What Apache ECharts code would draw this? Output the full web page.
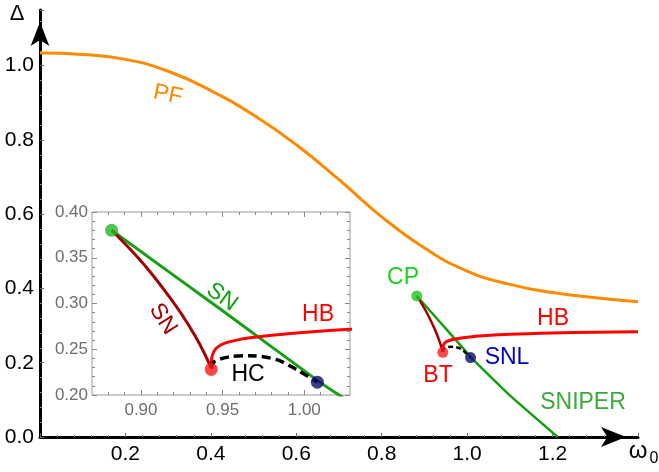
<!DOCTYPE html>
<html>
<head>
<meta charset="utf-8">
<title>Bifurcation diagram</title>
<script src="https://cdn.jsdelivr.net/npm/echarts@6/dist/echarts.min.js"></script>
<style>
    html, body { margin: 0; padding: 0; background: #fff; }
    #main { width: 659px; height: 472px; }
</style>
</head>
<body>
<div id="main"></div>
<script>
    // --- data (omega_0, Delta) ---
    var pfOmega = [0, 0.1, 0.2, 0.3, 0.4, 0.5, 0.6, 0.7, 0.8, 0.9, 1.0, 1.1, 1.2, 1.3, 1.4];
    var pfDelta = [1.034, 1.030, 1.017, 0.985, 0.933, 0.867, 0.787, 0.693, 0.593, 0.509, 0.447, 0.411, 0.389, 0.375, 0.364];

    var snOmega = [0.882, 0.95, 1.008, 1.023, 1.1, 1.212];
    var snDelta = [0.380, 0.292, 0.216, 0.198, 0.112, 0];

    var snRedOmega = [0.882, 0.893, 0.904, 0.915, 0.925, 0.933, 0.939, 0.943];
    var snRedDelta = [0.380, 0.360, 0.338, 0.313, 0.288, 0.265, 0.245, 0.229];

    var hbOmega = [0.943, 0.9435, 0.946, 0.951, 0.96, 0.9667, 0.99, 1.028, 1.1, 1.2, 1.3, 1.4];
    var hbDelta = [0.229, 0.242, 0.251, 0.2565, 0.2605, 0.2625, 0.267, 0.2718, 0.2765, 0.280, 0.282, 0.2832];

    var hcOmega = [0.943, 0.945, 0.9543, 0.9667, 0.9832, 0.9956, 1.008];
    var hcDelta = [0.229, 0.2366, 0.2418, 0.2430, 0.2386, 0.2275, 0.214];

    var cpPoint = [0.882, 0.380];
    var btPoint = [0.943, 0.228];
    var snlPoint = [1.008, 0.214];

    // tick labels
    var mainXLabels = ['0.2', '0.4', '0.6', '0.8', '1.0', '1.2'];
    var mainYLabels = ['0.0', '0.2', '0.4', '0.6', '0.8', '1.0'];
    var insetXTicks = [0.90, 0.95, 1.00];
    var insetYTicks = [0.20, 0.25, 0.30, 0.35, 0.40];

    function pairs(xs, ys) {
        return xs.map(function (x, i) { return [x, ys[i]]; });
    }

    // minor ticks of the inset frame (every 0.01, skipping majors)
    function minorTicks(from, to, majors) {
        var out = [];
        for (var v = Math.round(from * 100); v <= Math.round(to * 100); v++) {
            var val = v / 100;
            var isMajor = majors.some(function (m) { return Math.abs(m - val) < 1e-6; });
            if (!isMajor) out.push(val);
        }
        return out;
    }

    var insetXMin = 0.87, insetXMax = 1.028, insetYMin = 0.20, insetYMax = 0.40;
    var font = 'Liberation Sans, Arial, sans-serif';
    var tickGray = '#8a8a8a';

    function insetAxis(kind, position, major, showLabel) {
        var ticks = major ? (kind === 'x' ? insetXTicks : insetYTicks)
            : (kind === 'x' ? minorTicks(0.88, 1.02, insetXTicks) : minorTicks(0.21, 0.39, insetYTicks));
        return {
            type: 'value',
            gridIndex: 1,
            position: position,
            min: kind === 'x' ? insetXMin : insetYMin,
            max: kind === 'x' ? insetXMax : insetYMax,
            axisLine: {show: false},
            splitLine: {show: false},
            axisTick: {show: true, inside: true, length: major ? 5 : 3, customValues: ticks,
                lineStyle: {color: tickGray, width: 1}},
            axisLabel: {show: showLabel, customValues: ticks, color: '#6e6e6e', fontSize: 17,
                fontFamily: font, margin: kind === 'x' ? 7 : 4,
                formatter: function (v) { return v.toFixed(2); }}
        };
    }

    var myChart = echarts.init(document.getElementById('main'), null, {renderer: 'canvas'});

    var option = {
        backgroundColor: '#fff',
        animation: false,
        grid: [
            {left: 40, right: 21, top: 10, bottom: 35},
            {left: 92, right: 309, top: 212, bottom: 77, show: true,
                backgroundColor: '#fff', borderColor: '#999', borderWidth: 1}
        ],
        xAxis: [
            {
                type: 'value', gridIndex: 0, min: 0, max: 1.4, interval: 0.2,
                axisLine: {show: true, onZero: false, lineStyle: {color: '#000', width: 3},
                    symbol: ['none', 'arrow'], symbolSize: [15, 25], symbolOffset: [0, -12]},
                axisTick: {show: true, inside: true, length: 4, lineStyle: {color: '#666'}},
                minorTick: {show: true, splitNumber: 5, length: 2, lineStyle: {color: '#888'}},
                splitLine: {show: false},
                axisLabel: {color: '#000', fontSize: 21, fontFamily: font, margin: 7,
                    formatter: function (v) {
                        var s = v.toFixed(1);
                        return mainXLabels.indexOf(s) >= 0 ? s : '';
                    }}
            },
            insetAxis('x', 'bottom', true, true),
            insetAxis('x', 'bottom', false, false),
            insetAxis('x', 'top', true, false),
            insetAxis('x', 'top', false, false)
        ],
        yAxis: [
            {
                type: 'value', gridIndex: 0, min: 0, max: 1.15, interval: 0.2,
                axisLine: {show: true, onZero: false, lineStyle: {color: '#000', width: 3},
                    symbol: ['none', 'arrow'], symbolSize: [14, 24], symbolOffset: [0, -12]},
                axisTick: {show: true, inside: true, length: 4, lineStyle: {color: '#666'}},
                minorTick: {show: true, splitNumber: 5, length: 2, lineStyle: {color: '#888'}},
                splitLine: {show: false},
                axisLabel: {color: '#000', fontSize: 21, fontFamily: font, margin: 6,
                    formatter: function (v) {
                        var s = v.toFixed(1);
                        return mainYLabels.indexOf(s) >= 0 && Math.abs(v - parseFloat(s)) < 1e-6 ? s : '';
                    }}
            },
            insetAxis('y', 'left', true, true),
            insetAxis('y', 'left', false, false),
            insetAxis('y', 'right', true, false),
            insetAxis('y', 'right', false, false)
        ],
        series: [
            // main plot
            {type: 'line', xAxisIndex: 0, yAxisIndex: 0, data: pairs(pfOmega, pfDelta), smooth: 0.5,
                showSymbol: false, lineStyle: {color: '#ff8a00', width: 3}},
            {type: 'line', xAxisIndex: 0, yAxisIndex: 0, data: pairs(snOmega, snDelta), smooth: 0.2,
                showSymbol: false, lineStyle: {color: '#13a013', width: 2.5}},
            {type: 'line', xAxisIndex: 0, yAxisIndex: 0, data: pairs(snRedOmega, snRedDelta), smooth: 0.3,
                showSymbol: false, lineStyle: {color: '#a00000', width: 2.5}},
            {type: 'line', xAxisIndex: 0, yAxisIndex: 0, data: pairs(hbOmega, hbDelta), smooth: 0.3,
                showSymbol: false, lineStyle: {color: '#ff0000', width: 3}},
            {type: 'line', xAxisIndex: 0, yAxisIndex: 0, data: pairs(hcOmega, hcDelta), smooth: 0.3,
                showSymbol: false, lineStyle: {color: '#000', width: 2.5, type: [5, 3]}},
            {type: 'scatter', xAxisIndex: 0, yAxisIndex: 0, symbolSize: 11, z: 5,
                data: [
                    {value: cpPoint, itemStyle: {color: '#22c422'}},
                    {value: btPoint, itemStyle: {color: '#ff1a1a'}},
                    {value: snlPoint, itemStyle: {color: '#0c0c6e'}}
                ]},
            // inset
            {type: 'line', xAxisIndex: 1, yAxisIndex: 1, data: pairs(snOmega, snDelta), smooth: 0.2, clip: true,
                showSymbol: false, lineStyle: {color: '#13a013', width: 3}},
            {type: 'line', xAxisIndex: 1, yAxisIndex: 1, data: pairs(snRedOmega, snRedDelta), smooth: 0.3, clip: true,
                showSymbol: false, lineStyle: {color: '#a00000', width: 3}},
            {type: 'line', xAxisIndex: 1, yAxisIndex: 1, data: pairs(hbOmega, hbDelta), smooth: 0.3, clip: true,
                showSymbol: false, lineStyle: {color: '#ff0000', width: 3}},
            {type: 'line', xAxisIndex: 1, yAxisIndex: 1, data: pairs(hcOmega, hcDelta), smooth: 0.3, clip: true,
                showSymbol: false, lineStyle: {color: '#000', width: 3.5, type: [9, 5]}},
            {type: 'scatter', xAxisIndex: 1, yAxisIndex: 1, symbolSize: 13, z: 5, clip: false,
                data: [
                    {value: cpPoint, itemStyle: {color: '#22b822'}},
                    {value: btPoint, itemStyle: {color: '#ff1a1a'}},
                    {value: snlPoint, itemStyle: {color: '#0c0c6e'}}
                ]}
        ],
        graphic: [
            // axis titles
            {type: 'text', x: 17, y: 14, style: {text: 'Δ', fontSize: 22, fontFamily: font, fill: '#000', align: 'center', verticalAlign: 'middle'}},
            {type: 'text', x: 638, y: 451, style: {text: 'ω', fontSize: 24, fontFamily: font, fill: '#000', align: 'center', verticalAlign: 'middle'}},
            {type: 'text', x: 654, y: 459, style: {text: '0', fontSize: 16, fontFamily: font, fill: '#000', align: 'center', verticalAlign: 'middle'}},
            // main annotations
            {type: 'text', x: 168, y: 95, rotation: -0.2, style: {text: 'PF', fontSize: 23, fontFamily: font, fill: '#ff8a00', align: 'center', verticalAlign: 'middle'}},
            {type: 'text', x: 403, y: 278, style: {text: 'CP', fontSize: 23, fontFamily: font, fill: '#22cc22', align: 'center', verticalAlign: 'middle'}},
            {type: 'text', x: 553, y: 319, style: {text: 'HB', fontSize: 23, fontFamily: font, fill: '#ff0000', align: 'center', verticalAlign: 'middle'}},
            {type: 'text', x: 507, y: 358, style: {text: 'SNL', fontSize: 23, fontFamily: font, fill: '#0000cc', align: 'center', verticalAlign: 'middle'}},
            {type: 'text', x: 438, y: 376, style: {text: 'BT', fontSize: 23, fontFamily: font, fill: '#ff0000', align: 'center', verticalAlign: 'middle'}},
            {type: 'text', x: 583, y: 403, style: {text: 'SNIPER', fontSize: 23, fontFamily: font, fill: '#3aaa3a', align: 'center', verticalAlign: 'middle'}},
            // inset annotations
            {type: 'text', x: 222, y: 297, rotation: -0.63, z: 10, style: {text: 'SN', fontSize: 23, fontFamily: font, fill: '#13a013', align: 'center', verticalAlign: 'middle'}},
            {type: 'text', x: 163, y: 319, rotation: -1.0, z: 10, style: {text: 'SN', fontSize: 23, fontFamily: font, fill: '#a00000', align: 'center', verticalAlign: 'middle'}},
            {type: 'text', x: 318, y: 315, z: 10, style: {text: 'HB', fontSize: 23, fontFamily: font, fill: '#ff0000', align: 'center', verticalAlign: 'middle'}},
            {type: 'text', x: 248, y: 375, z: 10, style: {text: 'HC', fontSize: 23, fontFamily: font, fill: '#000', align: 'center', verticalAlign: 'middle'}}
        ]
    };

    myChart.setOption(option);
</script>
</body>
</html>
